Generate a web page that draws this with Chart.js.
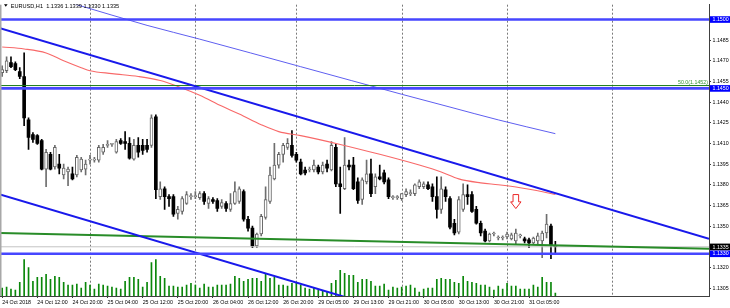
<!DOCTYPE html>
<html><head><meta charset="utf-8">
<script src="https://cdn.jsdelivr.net/npm/chart.js@4.4.1/dist/chart.umd.min.js"></script>
<style>html,body{margin:0;padding:0;background:#fff;overflow:hidden}canvas{display:block}</style>
</head><body>
<canvas id="c" width="730" height="308"></canvas>
<script>
// ---------- DATA ----------
const symbolTitle = "EURUSD,H1  1.1336 1.1339 1.1330 1.1335";
const timeLabels = ["24 Oct 2018","24 Oct 12:00","24 Oct 20:00","25 Oct 04:00","25 Oct 12:00","25 Oct 20:00","26 Oct 04:00","26 Oct 12:00","26 Oct 20:00","29 Oct 05:00","29 Oct 13:00","29 Oct 21:00","30 Oct 05:00","30 Oct 13:00","30 Oct 21:00","31 Oct 05:00"];
const barsPerLabel = 8;
const daySeparatorBars = [20,44,67,91,115,139];
const priceTicks = [1.1305,1.1320,1.1335,1.1350,1.1365,1.1380,1.1395,1.1410,1.1425,1.1440,1.1455,1.1470,1.1485,1.1500];

const opens = [1.14614,1.14629,1.14686,1.14679,1.14621,1.14586,1.14271,1.14164,1.14157,1.14121,
1.13914,1.14021,1.13929,1.13950,1.13871,1.13893,1.13879,1.13871,1.13907,1.13914,
1.13979,1.13979,1.13979,1.14036,1.14086,1.14093,1.14036,1.14121,1.14114,1.14100,
1.13986,1.14086,1.14086,1.14086,1.14086,1.14293,1.13714,1.13771,1.13714,1.13714,
1.13593,1.13607,1.13664,1.13714,1.13714,1.13707,1.13736,1.13664,1.13693,1.13686,
1.13643,1.13664,1.13621,1.13664,1.13679,1.13750,1.13550,1.13486,1.13357,1.13443,
1.13564,1.13679,1.13843,1.13943,1.14021,1.14071,1.14086,1.14021,1.13964,1.13907,
1.13907,1.13907,1.13929,1.13893,1.13950,1.13907,1.14071,1.13807,1.13771,1.13943,
1.13943,1.13821,1.13693,1.13821,1.13879,1.13786,1.13857,1.13886,1.13836,1.13707,
1.13707,1.13700,1.13729,1.13736,1.13736,1.13786,1.13786,1.13800,1.13786,1.13714,
1.13621,1.13764,1.13700,1.13521,1.13457,1.13621,1.13729,1.13729,1.13621,1.13521,
1.13464,1.13393,1.13443,1.13414,1.13414,1.13421,1.13407,1.13393,1.13429,1.13407,
1.13400,1.13379,1.13393,1.13393,1.13450,1.13500,1.13360];
const highs = [1.14664,1.14729,1.14729,1.14693,1.14650,1.14757,1.14286,1.14179,1.14164,1.14129,
1.14057,1.14036,1.14086,1.14021,1.13950,1.13929,1.13929,1.14014,1.14000,1.13979,
1.14014,1.14000,1.14086,1.14093,1.14121,1.14100,1.14129,1.14136,1.14186,1.14143,
1.14129,1.14143,1.14129,1.14129,1.14307,1.14307,1.13821,1.13786,1.13729,1.13729,
1.13643,1.13714,1.13750,1.13736,1.13750,1.13750,1.13750,1.13714,1.13707,1.13700,
1.13693,1.13679,1.13736,1.13821,1.13786,1.13764,1.13571,1.13500,1.13450,1.13586,
1.13786,1.13929,1.14100,1.14036,1.14100,1.14136,1.14193,1.14036,1.13986,1.13929,
1.13929,1.13979,1.13943,1.13964,1.13979,1.14114,1.14093,1.13929,1.14143,1.13979,
1.14000,1.13850,1.13850,1.13979,1.13986,1.13879,1.13943,1.13907,1.13850,1.13721,
1.13721,1.13736,1.13771,1.13764,1.13807,1.13836,1.13821,1.13821,1.13807,1.13857,
1.13857,1.13786,1.13714,1.13550,1.13714,1.13807,1.13800,1.13750,1.13643,1.13536,
1.13479,1.13450,1.13457,1.13429,1.13429,1.13457,1.13450,1.13479,1.13443,1.13421,
1.13414,1.13421,1.13450,1.13464,1.13586,1.13514,1.13390];
const lows = [1.14586,1.14614,1.14650,1.14629,1.14571,1.14229,1.14057,1.14107,1.14093,1.13907,
1.13786,1.13907,1.13914,1.13879,1.13843,1.13793,1.13836,1.13857,1.13893,1.13871,
1.13950,1.13964,1.13964,1.14021,1.14071,1.14079,1.14029,1.14093,1.14057,1.13986,
1.13979,1.14000,1.14021,1.14036,1.14071,1.13700,1.13693,1.13621,1.13643,1.13571,
1.13550,1.13586,1.13657,1.13693,1.13700,1.13693,1.13657,1.13629,1.13664,1.13607,
1.13629,1.13607,1.13607,1.13657,1.13664,1.13536,1.13464,1.13343,1.13343,1.13429,
1.13550,1.13664,1.13836,1.13921,1.13964,1.14057,1.14000,1.13964,1.13871,1.13871,
1.13893,1.13893,1.13879,1.13879,1.13893,1.13900,1.13786,1.13593,1.13764,1.13907,
1.13764,1.13664,1.13657,1.13807,1.13714,1.13736,1.13836,1.13807,1.13700,1.13693,
1.13693,1.13686,1.13714,1.13721,1.13721,1.13771,1.13771,1.13764,1.13679,1.13557,
1.13593,1.13679,1.13479,1.13436,1.13443,1.13607,1.13657,1.13600,1.13514,1.13429,
1.13386,1.13386,1.13429,1.13400,1.13400,1.13407,1.13400,1.13371,1.13414,1.13379,
1.13343,1.13371,1.13371,1.13271,1.13414,1.13264,1.13300];
const closes = [1.14636,1.14700,1.14657,1.14636,1.14586,1.14286,1.14143,1.14129,1.14100,1.13914,
1.14036,1.13914,1.14071,1.13921,1.13921,1.13914,1.13843,1.14000,1.13986,1.13950,
1.13979,1.13986,1.14071,1.14071,1.14093,1.14093,1.14114,1.14100,1.14100,1.13993,
1.14086,1.14036,1.14050,1.14057,1.14286,1.13764,1.13771,1.13714,1.13700,1.13586,
1.13621,1.13700,1.13729,1.13714,1.13714,1.13736,1.13679,1.13700,1.13679,1.13629,
1.13671,1.13629,1.13664,1.13750,1.13771,1.13550,1.13486,1.13357,1.13443,1.13571,
1.13693,1.13871,1.13943,1.14021,1.14086,1.14100,1.14014,1.13979,1.13879,1.13886,
1.13907,1.13943,1.13893,1.13943,1.13921,1.14086,1.13807,1.13786,1.13943,1.13929,
1.13771,1.13686,1.13836,1.13879,1.13736,1.13857,1.13843,1.13821,1.13714,1.13707,
1.13707,1.13736,1.13750,1.13743,1.13800,1.13821,1.13807,1.13771,1.13714,1.13621,
1.13771,1.13714,1.13493,1.13450,1.13693,1.13729,1.13714,1.13607,1.13521,1.13450,
1.13393,1.13443,1.13443,1.13414,1.13414,1.13443,1.13436,1.13450,1.13436,1.13393,
1.13379,1.13414,1.13429,1.13450,1.13514,1.13360,1.13350];
const volumes = [800,900,700,600,1400,3700,2900,1500,1900,1900,
2200,1700,2000,1900,1400,1100,1100,1200,800,1400,
1100,700,1200,1100,1000,900,800,700,1500,1900,
1900,1700,900,1400,3400,3700,2000,1800,1000,1000,
900,900,1100,1300,1100,800,1200,900,900,1100,
1100,1100,1200,2000,1800,1500,1700,1800,1800,1500,
2200,1800,1900,1100,1100,1000,1300,1300,1100,800,
700,800,600,500,400,1300,1600,2600,2300,2100,
2100,1400,1700,1700,1500,1000,1000,1200,600,900,
800,900,1000,1100,800,400,700,800,800,1700,
1800,1700,1700,1400,1300,2000,1500,1400,1300,1100,
1100,900,600,1000,700,1300,1000,1000,700,700,
700,1100,900,1900,1400,1400,300];

// moving averages (at selected bars)
const maRedBars = [0,5,10,14,18,20,25,31,36,40,45,50,54,59,63,68,77,86,95,100,104,109,113,118,122,126];
const maRedValues = [1.14800,1.14786,1.14757,1.14700,1.14650,1.14628,1.14607,1.14586,1.14557,1.14514,1.14450,1.14371,1.14314,1.14236,1.14186,1.14157,1.14093,1.14021,1.13943,1.13893,1.13843,1.13814,1.13800,1.13779,1.13757,1.13729];
const maBlueBars = [0,17,33,45,68,91,102,113,126];
const maBlueValues = [1.15264,1.15107,1.14957,1.14857,1.14657,1.14457,1.14364,1.14271,1.14171];

// trend lines (bar, price)
const channelUpperBars = [-0.5,161];
const channelUpperPrices = [1.14936,1.13408];
const channelLowerBars = [-0.5,161];
const channelLowerPrices = [1.13729,1.12201];
const supportBars = [-0.5,161];
const supportPrices = [1.13450,1.13336];

// horizontal levels
const blueLevels = [1.1500,1.1450,1.1330];
const fibLevel = 1.1452;
const fibLabel = "50.0(1.1452)";
const bidPrice = 1.1335;

// arrow marker
const arrowBar = 117;
const arrowPrice = 1.13729;

// axis ranges
const xMin = -0.5, xMax = 161;
const yMin = 1.129929, yMax = 1.151071;
const volumeAxisMax = 29600;

// ---------- BUILD ----------
const idx = opens.map((_, i) => i);
const isUp = i => closes[i] >= opens[i];
const pts = (xs, ys) => xs.map((x, k) => ({x, y: ys[k]}));
const span = v => [{x: xMin, y: v}, {x: xMax, y: v}];

const datasets = [
  {type:'bar', data: idx.map(i => ({x:i, y:volumes[i]})), yAxisID:'yv',
   backgroundColor:'rgb(10,135,10)', barThickness:1, grouped:false, order:30},
  {type:'bar', data: idx.map(i => ({x:i, y:[lows[i], highs[i]]})), yAxisID:'y',
   backgroundColor: c => isUp(c.dataIndex) ? '#6e6e6e' : '#000', barThickness:1, grouped:false, order:25},
  {type:'bar', data: idx.map(i => ({x:i, y:[opens[i], closes[i]]})), yAxisID:'y',
   backgroundColor: c => isUp(c.dataIndex) ? '#fff' : '#000',
   borderColor: c => isUp(c.dataIndex) ? '#666' : '#000',
   borderWidth: c => isUp(c.dataIndex) ? 1 : 0, borderSkipped:false,
   barThickness:3, minBarLength:1, grouped:false, order:24},
  {type:'line', data: pts(maBlueBars, maBlueValues), borderColor:'rgb(95,95,240)', borderWidth:1,
   pointRadius:0, cubicInterpolationMode:'monotone', order:20},
  {type:'line', data: pts(maRedBars, maRedValues), borderColor:'rgb(248,105,105)', borderWidth:1.1,
   pointRadius:0, cubicInterpolationMode:'monotone', order:19},
  {type:'line', data: span(bidPrice), borderColor:'rgb(195,195,195)', borderWidth:1, pointRadius:0, order:18},
  {type:'line', data: span(fibLevel), borderColor:'rgb(20,120,20)', borderWidth:1, pointRadius:0, order:12},
  {type:'line', data: pts(supportBars, supportPrices), borderColor:'rgb(40,140,40)', borderWidth:2, pointRadius:0, order:11},
  {type:'line', data: pts(channelUpperBars, channelUpperPrices), borderColor:'rgb(25,25,235)', borderWidth:2, pointRadius:0, order:10},
  {type:'line', data: pts(channelLowerBars, channelLowerPrices), borderColor:'rgb(25,25,235)', borderWidth:2, pointRadius:0, order:10},
  ...blueLevels.map(v => ({type:'line', data: span(v), borderColor:'rgb(70,70,255)', borderWidth:2.6, pointRadius:0, order:5}))
];

const FONT = '"Liberation Sans", Arial, sans-serif';

const mtPlugin = {
  id: 'mt',
  beforeDatasetsDraw(chart) {
    const {ctx, chartArea: a, scales: {x}} = chart;
    ctx.save();
    ctx.strokeStyle = '#7a7a7a'; ctx.lineWidth = 1; ctx.setLineDash([2, 2]);
    daySeparatorBars.forEach(b => {
      const px = Math.round(x.getPixelForValue(b)) + 0.5;
      ctx.beginPath(); ctx.moveTo(px, a.top); ctx.lineTo(px, a.bottom); ctx.stroke();
    });
    ctx.restore();
  },
  afterDraw(chart) {
    const {ctx, chartArea: a, scales: {x, y}} = chart;
    ctx.save();
    // left frame strip
    ctx.fillStyle = '#a8a8a8'; ctx.fillRect(0, a.top, 1.5, a.bottom - a.top);
    // fib label
    ctx.font = '5.3px ' + FONT; ctx.fillStyle = 'rgb(50,150,50)';
    ctx.textAlign = 'right'; ctx.textBaseline = 'bottom';
    ctx.fillText(fibLabel, a.right - 1, y.getPixelForValue(fibLevel) - 0.5);
    // arrow
    const ax = x.getPixelForValue(arrowBar), ay = y.getPixelForValue(arrowPrice);
    ctx.beginPath();
    ctx.moveTo(ax - 2.8, ay); ctx.lineTo(ax + 2.8, ay); ctx.lineTo(ax + 2.8, ay + 7.3);
    ctx.lineTo(ax + 5.2, ay + 7.3); ctx.lineTo(ax, ay + 14); ctx.lineTo(ax - 5.2, ay + 7.3);
    ctx.lineTo(ax - 2.8, ay + 7.3); ctx.closePath();
    ctx.fillStyle = '#fff'; ctx.fill();
    ctx.strokeStyle = 'rgb(235,40,40)'; ctx.lineWidth = 1; ctx.stroke();
    // price boxes
    ctx.textAlign = 'left'; ctx.textBaseline = 'middle'; ctx.font = '5.3px ' + FONT;
    const box = (v, bg) => {
      const py = y.getPixelForValue(v);
      ctx.fillStyle = bg; ctx.fillRect(a.right + 1, py - 3.2, chart.width - a.right - 1, 6.6);
      ctx.fillStyle = '#fff'; ctx.fillText(v.toFixed(4), a.right + 3.5, py + 0.3);
    };
    blueLevels.forEach(v => box(v, 'rgb(0,0,255)'));
    box(bidPrice, '#000');
    // title
    ctx.fillStyle = '#000';
    ctx.beginPath(); ctx.moveTo(4, 4.2); ctx.lineTo(7.6, 4.2); ctx.lineTo(5.8, 6.8); ctx.closePath(); ctx.fill();
    ctx.font = '5.6px ' + FONT; ctx.textBaseline = 'middle';
    ctx.fillText(symbolTitle, 10.7, 6);
    ctx.restore();
  }
};

new Chart(document.getElementById('c'), {
  type: 'bar',
  data: {datasets},
  options: {
    responsive: false, animation: false, events: [],
    layout: {padding: 0},
    plugins: {legend: {display: false}, tooltip: {enabled: false}, title: {display: false}},
    scales: {
      x: {
        type: 'linear', position: 'bottom', min: xMin, max: xMax, offset: false,
        afterBuildTicks: s => { s.ticks = timeLabels.map((_, k) => ({value: k * barsPerLabel})); },
        afterFit: s => { s.height = 12; },
        ticks: {autoSkip: false, maxRotation: 0, minRotation: 0, align: 'start', padding: 1,
                color: '#000', font: {family: FONT, size: 5.3},
                callback: (v, i) => timeLabels[i]},
        grid: {drawOnChartArea: false, offset: false, tickLength: 2, color: '#404040'},
        border: {color: '#404040'}
      },
      y: {
        type: 'linear', position: 'right', min: yMin, max: yMax,
        afterBuildTicks: s => { s.ticks = priceTicks.map(v => ({value: v})); },
        afterFit: s => { s.width = 21; },
        ticks: {padding: 1.5, color: '#000', font: {family: FONT, size: 5.3},
                callback: v => Number(v).toFixed(4)},
        grid: {drawOnChartArea: false, tickLength: 2, color: '#404040'},
        border: {color: '#404040'}
      },
      yv: {type: 'linear', display: false, min: 0, max: volumeAxisMax}
    }
  },
  plugins: [mtPlugin]
});
</script>
</body></html>
